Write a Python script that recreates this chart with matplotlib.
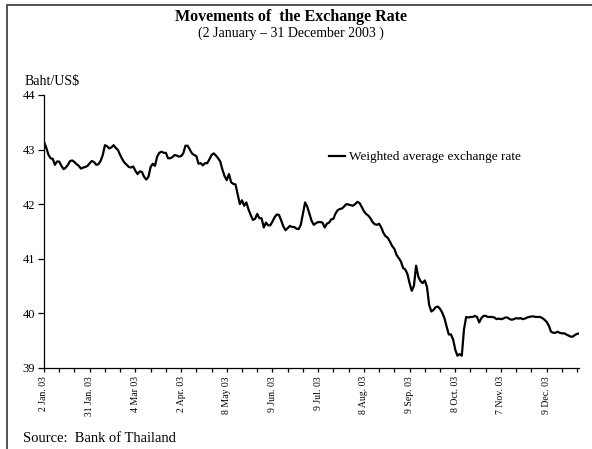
import matplotlib
matplotlib.use("Agg")
import matplotlib.pyplot as plt
from matplotlib.patches import Rectangle
from matplotlib.lines import Line2D

# Weighted average exchange rate (Baht/US$), trading days 2 Jan - 31 Dec 2003
rate = [
    43.14, 43.04, 42.91, 42.84, 42.83, 42.72, 42.78, 42.78, 42.70, 42.64,
    42.67, 42.72, 42.79, 42.80, 42.77, 42.73, 42.70, 42.65, 42.67, 42.68,
    42.70, 42.75, 42.79, 42.77, 42.72, 42.73, 42.79, 42.90, 43.08, 43.06,
    43.02, 43.04, 43.08, 43.03, 42.99, 42.90, 42.82, 42.76, 42.72, 42.68,
    42.67, 42.69, 42.61, 42.55, 42.60, 42.59, 42.50, 42.45, 42.50, 42.68,
    42.74, 42.70, 42.87, 42.94, 42.96, 42.94, 42.94, 42.84, 42.84, 42.86,
    42.90, 42.89, 42.87, 42.88, 42.93, 43.07, 43.07, 43.00, 42.93, 42.90,
    42.88, 42.74, 42.75, 42.71, 42.75, 42.75, 42.82, 42.90, 42.93, 42.89,
    42.84, 42.78, 42.63, 42.51, 42.44, 42.55, 42.40, 42.37, 42.36, 42.18,
    42.00, 42.07, 41.97, 42.03, 41.90, 41.80, 41.71, 41.73, 41.82, 41.74,
    41.74, 41.57, 41.66, 41.61, 41.61, 41.68, 41.76, 41.81, 41.80, 41.70,
    41.59, 41.52, 41.56, 41.60, 41.58, 41.58, 41.55, 41.54, 41.62, 41.82,
    42.03, 41.95, 41.82, 41.69, 41.62, 41.65, 41.67, 41.67, 41.66, 41.57,
    41.64, 41.66, 41.72, 41.73, 41.83, 41.89, 41.91, 41.92, 41.96, 42.00,
    41.99, 41.98, 41.97, 42.00, 42.04, 42.02, 41.95, 41.87, 41.82, 41.79,
    41.74, 41.67, 41.63, 41.62, 41.64, 41.57, 41.47, 41.41, 41.38, 41.31,
    41.23, 41.18, 41.07, 41.01, 40.95, 40.83, 40.80, 40.72, 40.55, 40.41,
    40.50, 40.87, 40.67, 40.59, 40.55, 40.60, 40.48, 40.15, 40.03, 40.06,
    40.11, 40.12, 40.08, 40.01, 39.91, 39.76, 39.61, 39.61, 39.52, 39.33,
    39.22, 39.25, 39.22, 39.70, 39.93, 39.92, 39.93, 39.93, 39.95, 39.93,
    39.83, 39.91, 39.95, 39.95, 39.93, 39.93, 39.93, 39.92, 39.89, 39.90,
    39.89, 39.90, 39.92, 39.92, 39.89, 39.88, 39.89, 39.91, 39.90, 39.91,
    39.89, 39.90, 39.92, 39.93, 39.94, 39.94, 39.93, 39.93, 39.93, 39.91,
    39.88, 39.84, 39.77, 39.66, 39.64, 39.64, 39.66, 39.64, 39.63, 39.63,
    39.61, 39.59, 39.57, 39.57, 39.60, 39.62, 39.63,
]

date_labels = ["2 Jan. 03", "31 Jan. 03", "4 Mar 03", "2 Apr. 03", "8 May 03",
               "9 Jun. 03", "9 Jul. 03", "8 Aug. 03", "9 Sep. 03", "8 Oct. 03",
               "7 Nov. 03", "9 Dec. 03"]
label_step = 21
tick_step = 7
y_ticks = [39, 40, 41, 42, 43, 44]

title = "Movements of  the Exchange Rate"
subtitle = "(2 January \u2013 31 December 2003 )"
unit_label = "Baht/US$"
series_name = "Weighted average exchange rate"
source = "Source:  Bank of Thailand"

SERIF = ["Liberation Serif", "DejaVu Serif"]
plt.rcParams["font.family"] = SERIF

W, H = 592, 449
fig = plt.figure(figsize=(W / 100, H / 100), dpi=100)
fig.patch.set_facecolor("white")

# axes placement (pixel based)
left, right, top, bottom = 44, 579.3, 95, 367.7
ax = fig.add_axes([left / W, 1 - bottom / H, (right - left) / W, (bottom - top) / H])

x = list(range(len(rate)))
ax.plot(x, rate, color="black", lw=1.6, solid_joinstyle="round")

ax.set_xlim(0, len(rate) - 1)
ax.set_ylim(39, 44)
ax.set_yticks(y_ticks)
ax.set_yticklabels([str(v) for v in y_ticks], fontsize=9)
ax.set_xticks(list(range(0, len(rate), tick_step)), minor=True)
ax.set_xticks([i * label_step for i in range(len(date_labels))])
ax.set_xticklabels(date_labels, rotation=90, fontsize=7, va="top", ha="center")

for s in ["top", "right"]:
    ax.spines[s].set_visible(False)
for s in ["left", "bottom"]:
    ax.spines[s].set_linewidth(0.9)

ax.tick_params(axis="y", which="major", direction="out", length=4, width=0.9, pad=2.5)
ax.tick_params(axis="x", which="both", direction="out", length=3, width=0.9, pad=3)

# legend
handle = Line2D([], [], color="black", lw=1.6)
ax.legend([handle], [series_name], frameon=False, loc="center left",
          bbox_to_anchor=(329 / W, 1 - 157 / H), bbox_transform=fig.transFigure,
          borderpad=0, borderaxespad=0, handlelength=1.25, handletextpad=0.3,
          prop={"family": SERIF, "size": 9.5})

# titles and texts
fig.text(291 / W, 1 - 17 / H, title, ha="center", va="center", fontsize=11.5,
         fontweight="bold")
fig.text(291 / W, 1 - 33 / H, subtitle, ha="center", va="center", fontsize=10)
fig.text(25 / W, 1 - 82 / H, unit_label, ha="left", va="center", fontsize=10)
fig.text(23 / W, 1 - 438 / H, source, ha="left", va="center", fontsize=10.5)

# outer frame
fig.add_artist(Rectangle((7 / W, -0.02), 1.05, 1 - 5 / H + 0.02,
                         transform=fig.transFigure, fill=False,
                         edgecolor="#333333", lw=1.2))

fig.savefig("out.png", dpi=100, facecolor="white")
